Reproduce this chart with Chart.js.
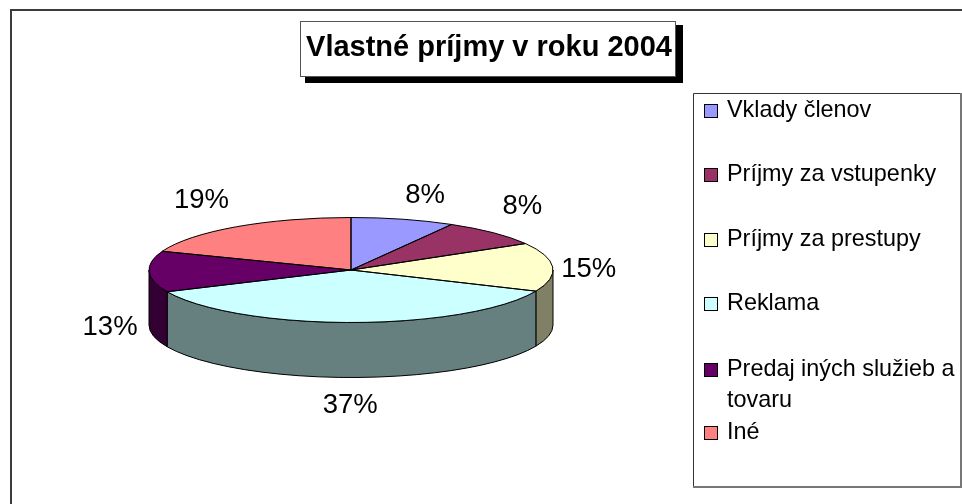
<!DOCTYPE html>
<html><head><meta charset="utf-8">
<style>html,body{margin:0;padding:0;background:#fff}#w{position:relative;width:962px;height:504px}canvas{display:block}</style>
<script src="https://cdn.jsdelivr.net/npm/chart.js@4/dist/chart.umd.min.js"></script>
</head><body><div id="w"><canvas id="c" width="962" height="504"></canvas></div>
<script>
const categories = ['Vklady členov','Príjmy za vstupenky','Príjmy za prestupy','Reklama','Predaj iných služieb a tovaru','Iné'];
const values = [8.3, 8.3, 15, 36.6, 12.6, 19.2];
const percentLabels = ['8%','8%','15%','37%','13%','19%'];
const topColors = ['#9999FF','#993366','#FFFFCC','#CCFFFF','#660066','#FF8080'];
const wallColors = ['#4D4D80','#4D1A33','#808066','#668080','#330033','#804040'];
const titleText = 'Vlastné príjmy v roku 2004';
const legendLines = [['Vklady členov'],['Príjmy za vstupenky'],['Príjmy za prestupy'],['Reklama'],['Predaj iných služieb a','tovaru'],['Iné']];

const FONT = '"Liberation Sans", Arial, sans-serif';
const SQUASH = 52.5 / 202, DEPTH = 55;
const labelNudge = [[22,-16],[29,-19],[36,10],[-2,91],[-39,63],[-35,-19]];
const legendBaselines = [117,181,246,310,376,439];

const pie3d = {
  id: 'pie3d',
  beforeDraw(chart){
    const c = chart.ctx; c.save();
    c.fillStyle = '#fff'; c.fillRect(0,0,962,504);
    c.strokeStyle = '#3c3c3c'; c.lineWidth = 2;
    c.beginPath(); c.moveTo(11,504); c.lineTo(11,10); c.lineTo(962,10); c.stroke();
    c.restore();
  },
  beforeDatasetsDraw(chart){
    const c = chart.ctx, arcs = chart.getDatasetMeta(0).data;
    c.save(); c.lineWidth = 1; c.strokeStyle = '#000';
    arcs.forEach((arc, i) => {
      const s = Math.max(arc.startAngle, 0), e = Math.min(arc.endAngle, Math.PI);
      if (e <= s) return;
      const {x, y, outerRadius:r} = arc, ry = r * SQUASH;
      c.beginPath();
      c.ellipse(x, y, r, ry, 0, s, e);
      c.ellipse(x, y + DEPTH, r, ry, 0, e, s, true);
      c.closePath();
      c.fillStyle = wallColors[i]; c.fill(); c.stroke();
    });
    c.restore();
  },
  beforeDatasetDraw(chart){
    const c = chart.ctx, a = chart.getDatasetMeta(0).data[0];
    c.save(); c.translate(a.x, a.y); c.scale(1, SQUASH); c.translate(-a.x, -a.y);
  },
  afterDatasetDraw(chart){ chart.ctx.restore(); },
  afterDatasetsDraw(chart){
    const c = chart.ctx, arcs = chart.getDatasetMeta(0).data;
    c.save(); c.lineWidth = 1; c.strokeStyle = '#000';
    arcs.forEach(arc => {
      c.beginPath();
      c.moveTo(arc.x, arc.y);
      c.ellipse(arc.x, arc.y, arc.outerRadius, arc.outerRadius * SQUASH, 0, arc.startAngle, arc.endAngle);
      c.closePath(); c.stroke();
    });
    // percent labels
    c.fillStyle = '#000'; c.font = '27.5px ' + FONT; c.textAlign = 'center'; c.textBaseline = 'alphabetic';
    arcs.forEach((arc, i) => {
      const m = (arc.startAngle + arc.endAngle) / 2;
      const px = arc.x + arc.outerRadius * Math.cos(m), py = arc.y + arc.outerRadius * SQUASH * Math.sin(m);
      c.fillText(percentLabels[i], px + labelNudge[i][0], py + labelNudge[i][1]);
    });
    // title box
    c.fillStyle = '#000'; c.fillRect(305,25,378,58);
    c.fillStyle = '#fff'; c.fillRect(300.5,21.5,375,55);
    c.strokeStyle = '#555'; c.strokeRect(300.5,21.5,375,55);
    c.fillStyle = '#000'; c.font = 'bold 29px ' + FONT; c.textAlign = 'center';
    c.fillText(titleText, 489, 56);
    // legend
    c.fillStyle = '#fff'; c.fillRect(693,93,268,394);
    c.lineWidth = 2; c.strokeStyle = '#777';
    c.beginPath(); c.moveTo(961,93); c.lineTo(961,487); c.lineTo(693,487); c.stroke();
    c.lineWidth = 1; c.strokeStyle = '#333';
    c.beginPath(); c.moveTo(693.5,486); c.lineTo(693.5,93.5); c.lineTo(960,93.5); c.stroke();
    c.font = '23.4px ' + FONT; c.textAlign = 'left';
    categories.forEach((name, i) => {
      const b = legendBaselines[i];
      c.fillStyle = topColors[i]; c.fillRect(704.5,b-12.5,13,13);
      c.strokeStyle = '#000'; c.strokeRect(704.5,b-12.5,13,13);
      c.fillStyle = '#000';
      legendLines[i].forEach((t, k) => c.fillText(t, 727, b + k * 31));
    });
    c.restore();
  }
};
new Chart(document.getElementById('c'), {
  type: 'pie',
  data: { labels: categories, datasets: [{ data: values, backgroundColor: topColors, borderWidth: 0 }] },
  options: {
    responsive: false, animation: false,
    layout: { padding: { left: 149, right: 409, top: 68, bottom: 32 } },
    plugins: { legend: { display: false }, tooltip: { enabled: false }, title: { display: false } }
  },
  plugins: [pie3d]
});
</script></body></html>
